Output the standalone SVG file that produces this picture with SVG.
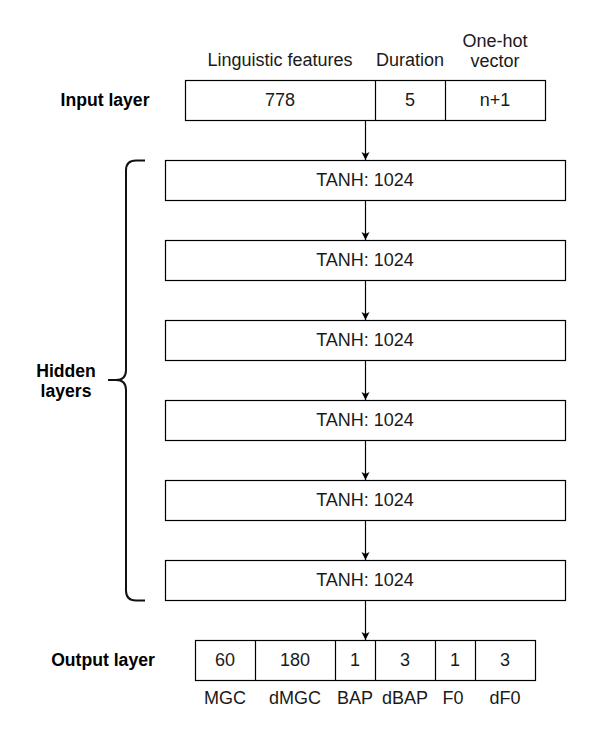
<svg xmlns="http://www.w3.org/2000/svg" width="592" height="737" viewBox="0 0 592 737">
<defs>
<style>
.box{fill:#fff;stroke:#000;stroke-width:1.2}
.t{font-family:"Liberation Sans",Arial,sans-serif;font-size:18px;fill:#1a1a1a;text-anchor:middle}
.b{font-weight:bold;fill:#000;font-size:17.6px}
.edge{stroke:#000;stroke-width:1.2;fill:none;marker-end:url(#arr)}
</style>
<marker id="arr" markerUnits="userSpaceOnUse" markerWidth="12" markerHeight="12" viewBox="-10 -6 12 12" refX="0" refY="0" orient="auto">
<path d="M0,0 L-8,-4 L-6,0 L-8,4 Z" fill="#000"/>
</marker>
</defs>
<rect width="592" height="737" fill="#fff"/>

<g id="input-header">
<text class="t" x="280" y="66">Linguistic features</text>
<text class="t" x="410" y="66">Duration</text>
<text class="t" x="495" y="47">One-hot</text>
<text class="t" x="495" y="67">vector</text>
</g>

<g id="input-label"><text class="t b" x="105" y="106">Input layer</text></g>

<g id="input-layer">
<rect class="box" x="185.5" y="80.5" width="360" height="40"/>
<line x1="375.5" y1="80.5" x2="375.5" y2="120.5" stroke="#000" stroke-width="1.2"/>
<line x1="445.5" y1="80.5" x2="445.5" y2="120.5" stroke="#000" stroke-width="1.2"/>
<text class="t" x="280" y="106">778</text>
<text class="t" x="410" y="106">5</text>
<text class="t" x="495" y="106">n+1</text>
</g>

<g id="hidden1"><rect class="box" x="165.5" y="160.5" width="400" height="40"/><text class="t" x="365" y="186">TANH: 1024</text></g>
<g id="hidden2"><rect class="box" x="165.5" y="240.5" width="400" height="40"/><text class="t" x="365" y="266">TANH: 1024</text></g>
<g id="hidden3"><rect class="box" x="165.5" y="320.5" width="400" height="40"/><text class="t" x="365" y="346">TANH: 1024</text></g>
<g id="hidden4"><rect class="box" x="165.5" y="400.5" width="400" height="40"/><text class="t" x="365" y="426">TANH: 1024</text></g>
<g id="hidden5"><rect class="box" x="165.5" y="480.5" width="400" height="40"/><text class="t" x="365" y="506">TANH: 1024</text></g>
<g id="hidden6"><rect class="box" x="165.5" y="560.5" width="400" height="40"/><text class="t" x="365" y="586">TANH: 1024</text></g>

<g id="hidden-bracket">
<path d="M145,160.5 L136,160.5 Q126,160.5 126,170.5 L126,370 Q126,380 116,380 L108,380 M116,380 Q126,380 126,390 L126,590.5 Q126,600.5 136,600.5 L145,600.5" fill="none" stroke="#111" stroke-width="2"/>
<text class="t b" x="66" y="377">Hidden</text>
<text class="t b" x="66" y="397">layers</text>
</g>

<g id="output-label"><text class="t b" x="103" y="666">Output layer</text></g>

<g id="output-layer">
<rect class="box" x="195.5" y="640.5" width="340" height="40"/>
<line x1="255.5" y1="640.5" x2="255.5" y2="680.5" stroke="#000" stroke-width="1.2"/>
<line x1="335.5" y1="640.5" x2="335.5" y2="680.5" stroke="#000" stroke-width="1.2"/>
<line x1="375.5" y1="640.5" x2="375.5" y2="680.5" stroke="#000" stroke-width="1.2"/>
<line x1="435.5" y1="640.5" x2="435.5" y2="680.5" stroke="#000" stroke-width="1.2"/>
<line x1="475.5" y1="640.5" x2="475.5" y2="680.5" stroke="#000" stroke-width="1.2"/>
<text class="t" x="225" y="666">60</text>
<text class="t" x="295" y="666">180</text>
<text class="t" x="355" y="666">1</text>
<text class="t" x="405" y="666">3</text>
<text class="t" x="455" y="666">1</text>
<text class="t" x="505" y="666">3</text>
</g>

<g id="output-footer">
<text class="t" x="225" y="704">MGC</text>
<text class="t" x="295" y="704">dMGC</text>
<text class="t" x="355" y="704">BAP</text>
<text class="t" x="405" y="704">dBAP</text>
<text class="t" x="453" y="704">F0</text>
<text class="t" x="505" y="704">dF0</text>
</g>

<g id="connectors">
<line class="edge" x1="365.5" y1="120.5" x2="365.5" y2="160"/>
<line class="edge" x1="365.5" y1="200.5" x2="365.5" y2="240"/>
<line class="edge" x1="365.5" y1="280.5" x2="365.5" y2="320"/>
<line class="edge" x1="365.5" y1="360.5" x2="365.5" y2="400"/>
<line class="edge" x1="365.5" y1="440.5" x2="365.5" y2="480"/>
<line class="edge" x1="365.5" y1="520.5" x2="365.5" y2="560"/>
<line class="edge" x1="365.5" y1="600.5" x2="365.5" y2="640"/>
</g>
</svg>
